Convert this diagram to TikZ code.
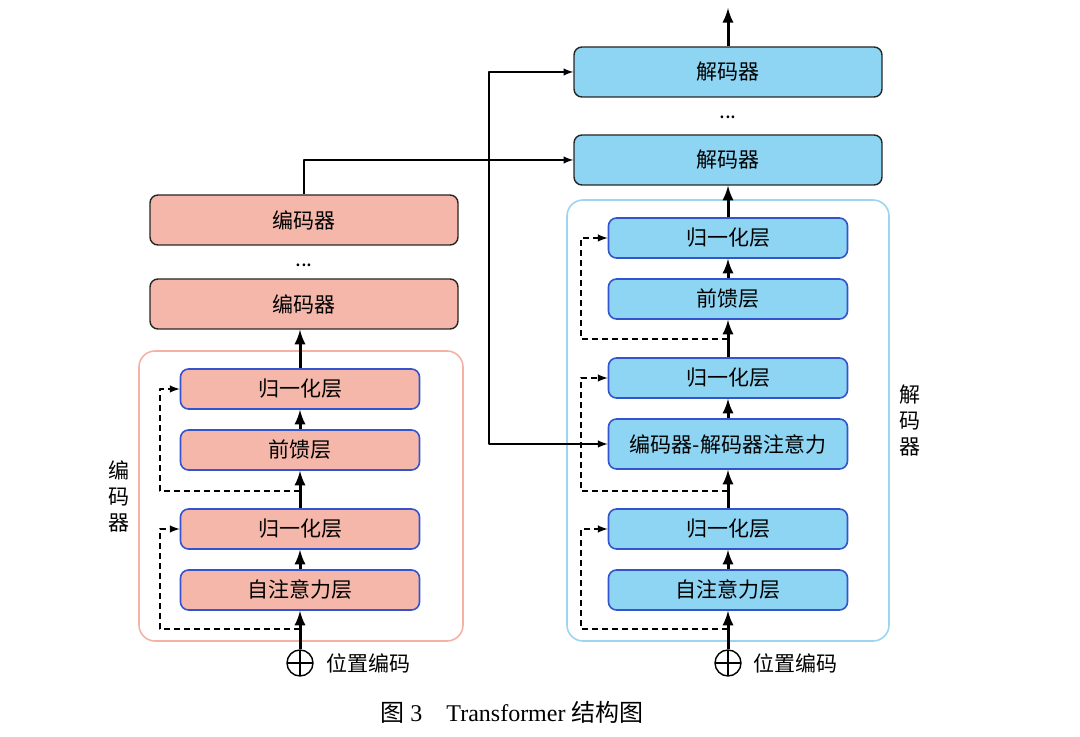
\documentclass[tikz,border=0pt]{standalone}
\usepackage{fontspec}
\setmainfont{Liberation Serif}
\newfontfamily\cjk{Noto Sans CJK SC}
\definecolor{encfill}{HTML}{F4B7AA}
\definecolor{decfill}{HTML}{8ED4F3}
\definecolor{innerline}{HTML}{3354CE}
\definecolor{encframe}{HTML}{F4B2A5}
\definecolor{decframe}{HTML}{9BD5F0}
\begin{document}
\begin{tikzpicture}[>=latex,line join=bevel,
  every node/.style={font=\cjk\fontsize{10.5bp}{13bp}\selectfont},
  outerbox/.style={draw=black!85,line width=0.7bp,rounded corners=4bp,minimum width=154bp,minimum height=25bp},
  innerbox/.style={draw=innerline,line width=0.8bp,rounded corners=4bp,minimum width=119.5bp,minimum height=20bp},
  frame/.style={line width=0.8bp,rounded corners=8bp},
  flow/.style={->,line width=1.5bp},
  skip/.style={->,dashed,dash pattern=on 3bp off 2bp,line width=0.7bp},
  link/.style={->,line width=0.7bp},
  posenc/.style={draw,circle,line width=0.7bp,minimum size=13bp,inner sep=0pt,
    path picture={\draw[line width=0.7bp] (path picture bounding box.north) -- (path picture bounding box.south)
      (path picture bounding box.west) -- (path picture bounding box.east);}},
]
\useasboundingbox (0bp,0bp) rectangle (540bp,368.5bp);
%% encoder
\draw [frame,draw=encframe] (69.5bp,48bp) rectangle (231.5bp,193bp);
\node (enc_top) at (152bp,258.5bp) [outerbox,fill=encfill] {编码器};
\node (enc_dots) at (152bp,236bp) {...};
\node (enc_2) at (152bp,216.5bp) [outerbox,fill=encfill] {编码器};
\node (enc_norm2) at (150bp,174bp) [innerbox,fill=encfill] {归一化层};
\node (enc_ff) at (150bp,143.5bp) [innerbox,fill=encfill] {前馈层};
\node (enc_norm1) at (150bp,104bp) [innerbox,fill=encfill] {归一化层};
\node (enc_attn) at (150bp,73.5bp) [innerbox,fill=encfill] {自注意力层};
\node (enc_pos) at (150bp,37bp) [posenc] {};
\node (enc_poslabel) at (184bp,37bp) {位置编码};
\node (enc_label) at (59.5bp,120.5bp) [align=center] {编\\码\\器};
\draw [flow] (enc_pos) -- (enc_attn);
\draw [flow] (enc_attn) -- (enc_norm1);
\draw [flow] (enc_norm1) -- (enc_ff);
\draw [flow] (enc_ff) -- (enc_norm2);
\draw [flow] (enc_norm2) -- (enc_norm2.north |- enc_2.south);
\coordinate (enc_r1) at (150bp,54bp);
\coordinate (enc_l1) at (80bp,54bp);
\coordinate (enc_r2) at (150bp,123bp);
\coordinate (enc_l2) at (80bp,123bp);
\draw [skip] (enc_r1) -- (enc_l1) |- (enc_norm1.west);
\draw [skip] (enc_r2) -- (enc_l2) |- (enc_norm2.west);
%% decoder
\draw [frame,draw=decframe] (283.5bp,48bp) rectangle (444.5bp,268.5bp);
\node (dec_top) at (364bp,332.5bp) [outerbox,fill=decfill] {解码器};
\node (dec_dots) at (364bp,310bp) {...};
\node (dec_2) at (364bp,288.5bp) [outerbox,fill=decfill] {解码器};
\node (dec_norm3) at (364bp,249.5bp) [innerbox,fill=decfill] {归一化层};
\node (dec_ff) at (364bp,219bp) [innerbox,fill=decfill] {前馈层};
\node (dec_norm2) at (364bp,179.5bp) [innerbox,fill=decfill] {归一化层};
\node (dec_cross) at (364bp,146.5bp) [innerbox,fill=decfill,minimum height=25bp] {编码器-解码器注意力};
\node (dec_norm1) at (364bp,104bp) [innerbox,fill=decfill] {归一化层};
\node (dec_attn) at (364bp,73.5bp) [innerbox,fill=decfill] {自注意力层};
\node (dec_pos) at (364bp,37bp) [posenc] {};
\node (dec_poslabel) at (397.5bp,37bp) {位置编码};
\node (dec_label) at (455bp,158bp) [align=center] {解\\码\\器};
\coordinate (dec_out) at (364bp,364.5bp);
\draw [flow] (dec_pos) -- (dec_attn);
\draw [flow] (dec_attn) -- (dec_norm1);
\draw [flow] (dec_norm1) -- (dec_cross);
\draw [flow] (dec_cross) -- (dec_norm2);
\draw [flow] (dec_norm2) -- (dec_ff);
\draw [flow] (dec_ff) -- (dec_norm3);
\draw [flow] (dec_norm3) -- (dec_2);
\draw [flow] (dec_top) -- (dec_out);
\coordinate (dec_r1) at (364bp,54bp);
\coordinate (dec_l1) at (290.5bp,54bp);
\coordinate (dec_r2) at (364bp,123bp);
\coordinate (dec_l2) at (290.5bp,123bp);
\coordinate (dec_r3) at (364bp,199bp);
\coordinate (dec_l3) at (290.5bp,199bp);
\draw [skip] (dec_r1) -- (dec_l1) |- (dec_norm1.west);
\draw [skip] (dec_r2) -- (dec_l2) |- (dec_norm2.west);
\draw [skip] (dec_r3) -- (dec_l3) |- (dec_norm3.west);
%% encoder to decoder
\coordinate (bus) at (244.5bp,200bp);
\draw [link] (enc_top) |- (dec_2);
\draw [link,<->] (dec_top) -| (bus) |- (dec_cross);
%% caption
\node (caption) at (256bp,12.5bp) [font=\fontsize{12bp}{14bp}\selectfont] {{\cjk 图}~3\hspace{1em}Transformer {\cjk 结构图}};
%
\end{tikzpicture}
\end{document}
